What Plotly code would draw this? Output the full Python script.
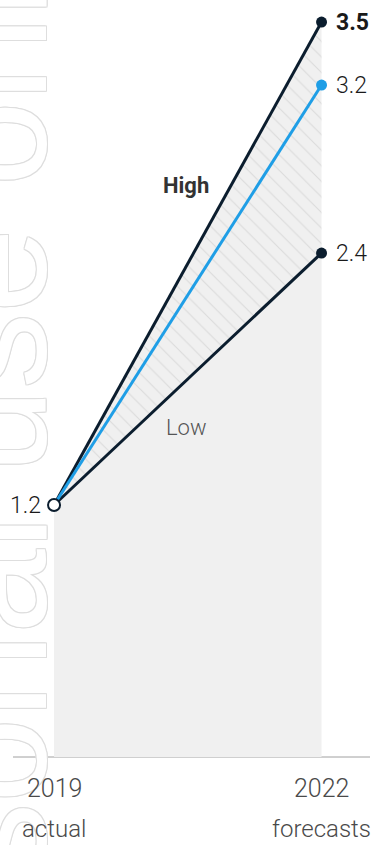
import plotly.graph_objects as go

# Forecast data
years = [2019, 2022]
low_values = [1.2, 2.4]
mid_values = [1.2, 3.2]
high_values = [1.2, 3.5]
start_value = 1.2
end_labels = ["3.5", "3.2", "2.4"]
end_values = [3.5, 3.2, 2.4]
year_labels = ["2019", "2022"]
year_notes = ["actual", "forecasts"]

NAVY = "#0b1d2e"
BLUE = "#1f9ee6"
FILL = "#f0f0f0"
FONT = "Roboto"

fig = go.Figure()

# area under the low scenario
fig.add_trace(go.Scatter(x=years, y=low_values, mode="lines", line=dict(width=0),
                         fill="tozeroy", fillcolor=FILL, hoverinfo="skip", showlegend=False))
# hatched band between low and high
fig.add_trace(go.Scatter(x=years, y=high_values, mode="lines", line=dict(width=0),
                         fill="tonexty", fillcolor=FILL,
                         fillpattern=dict(shape="\\", fgcolor="#c6c6c6", bgcolor=FILL,
                                          size=11, solidity=0.1),
                         hoverinfo="skip", showlegend=False))

# scenario lines
fig.add_trace(go.Scatter(x=years, y=high_values, mode="lines", line=dict(color=NAVY, width=3),
                         showlegend=False))
fig.add_trace(go.Scatter(x=years, y=low_values, mode="lines", line=dict(color=NAVY, width=3),
                         showlegend=False))
fig.add_trace(go.Scatter(x=years, y=mid_values, mode="lines", line=dict(color=BLUE, width=3),
                         showlegend=False))

# end markers
fig.add_trace(go.Scatter(x=[years[1]] * 2, y=[high_values[1], low_values[1]], mode="markers",
                         marker=dict(color=NAVY, size=11), showlegend=False))
fig.add_trace(go.Scatter(x=[years[1]], y=[mid_values[1]], mode="markers",
                         marker=dict(color=BLUE, size=11), showlegend=False))
# start marker
fig.add_trace(go.Scatter(x=[years[0]], y=[start_value], mode="markers",
                         marker=dict(color="white", size=12, line=dict(color=NAVY, width=2)),
                         showlegend=False))

annotations = []

# large outlined watermark along the left edge
outline = ", ".join(f"{dx}px {dy}px 0 #dedede" for dx, dy in
                    [(1, 0), (-1, 0), (0, 1), (0, -1), (1, 1), (-1, -1), (1, -1), (-1, 1)])
annotations.append(dict(
    text="For personal use only", xref="paper", yref="paper",
    x=-7.8 / 377, y=1 - 637.5 / 845, xanchor="center", yanchor="middle",
    textangle=-90, showarrow=False,
    font=dict(family="Liberation Sans", size=152, color="white", shadow=outline),
))

# value labels at the forecast end
for lbl, val in zip(end_labels, end_values):
    annotations.append(dict(
        text=lbl, x=years[1], y=val, xanchor="left", yanchor="middle", xshift=12,
        showarrow=False,
        font=dict(family=FONT, size=23, color="#1a1a1a",
                  weight="bold" if lbl == end_labels[0] else 300),
    ))
annotations.append(dict(
    text=f"{start_value}", x=years[0], y=start_value, xanchor="right", yanchor="middle",
    xshift=-11, showarrow=False, font=dict(family=FONT, size=23, color="#1a1a1a", weight=300),
))

# scenario names
annotations.append(dict(text="High", x=2020.48, y=2.72, showarrow=False,
                        font=dict(family=FONT, size=22, color="#333333", weight="bold")))
annotations.append(dict(text="Low", x=2020.48, y=1.567, showarrow=False,
                        font=dict(family=FONT, size=22, color="#555555", weight=300)))

# year labels under the baseline
for yr, lab, note in zip(years, year_labels, year_notes):
    annotations.append(dict(text=lab, x=yr, y=0, yshift=-31, showarrow=False,
                            font=dict(family=FONT, size=25, color="#4a4a4a", weight=300)))
    annotations.append(dict(text=note, x=yr, y=0, yshift=-72, showarrow=False,
                            font=dict(family=FONT, size=24, color="#4a4a4a", weight=300)))

fig.update_layout(
    width=377, height=845,
    margin=dict(l=0, r=0, t=0, b=0),
    paper_bgcolor="white", plot_bgcolor="white",
    xaxis=dict(range=[2018.394, 2022.622], visible=False, fixedrange=True),
    yaxis=dict(range=[-0.419, 3.605], visible=False, fixedrange=True),
    annotations=annotations,
    shapes=[dict(type="line", xref="paper", yref="y", x0=13 / 377, x1=370 / 377, y0=0, y1=0,
                 line=dict(color="#a0a0a0", width=1), layer="below")],
)

fig.write_html("out.html")
